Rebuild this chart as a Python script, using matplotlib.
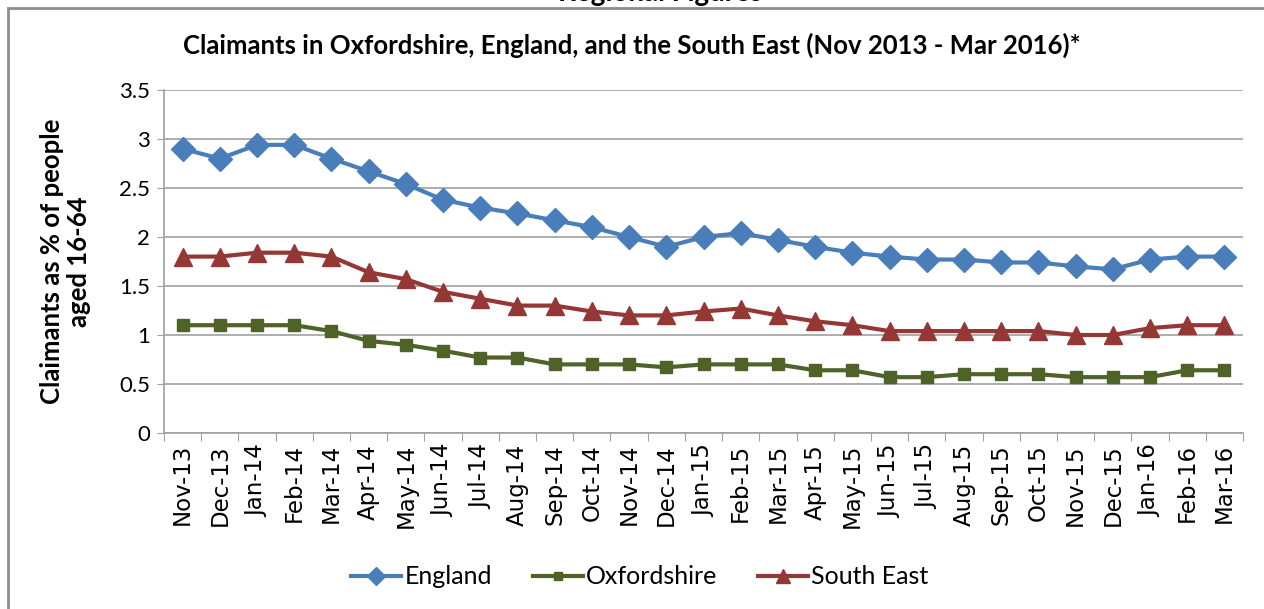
import matplotlib.pyplot as plt
from matplotlib.patches import Rectangle
import numpy as np

# month labels (Nov 2013 - Mar 2016)
months = ["Nov-13", "Dec-13", "Jan-14", "Feb-14", "Mar-14", "Apr-14", "May-14",
          "Jun-14", "Jul-14", "Aug-14", "Sep-14", "Oct-14", "Nov-14", "Dec-14",
          "Jan-15", "Feb-15", "Mar-15", "Apr-15", "May-15", "Jun-15", "Jul-15",
          "Aug-15", "Sep-15", "Oct-15", "Nov-15", "Dec-15", "Jan-16", "Feb-16",
          "Mar-16"]

england = [2.9, 2.8, 2.94, 2.94, 2.8, 2.67, 2.54, 2.38, 2.3, 2.24, 2.17, 2.1,
           2.0, 1.9, 2.0, 2.04, 1.97, 1.9, 1.84, 1.8, 1.77, 1.77, 1.74, 1.74,
           1.7, 1.67, 1.77, 1.8, 1.8]
oxfordshire = [1.1, 1.1, 1.1, 1.1, 1.04, 0.94, 0.9, 0.84, 0.77, 0.77, 0.7, 0.7,
               0.7, 0.67, 0.7, 0.7, 0.7, 0.64, 0.64, 0.57, 0.57, 0.6, 0.6, 0.6,
               0.57, 0.57, 0.57, 0.64, 0.64]
south_east = [1.8, 1.8, 1.84, 1.84, 1.8, 1.64, 1.57, 1.44, 1.37, 1.3, 1.3, 1.24,
              1.2, 1.2, 1.24, 1.27, 1.2, 1.14, 1.1, 1.04, 1.04, 1.04, 1.04, 1.04,
              1.0, 1.0, 1.07, 1.1, 1.1]

font_main = ["Lato", "DejaVu Sans"]

fig = plt.figure(figsize=(12.64, 6.09), dpi=100)
ax = fig.add_axes([164/1264, 1-433/609, (1243-164)/1264, (433-90)/609])

x = np.arange(len(months))
ax.plot(x, england, color="#4A7EBB", lw=3, marker="D", ms=12, label="England")
ax.plot(x, oxfordshire, color="#4F6228", lw=3, marker="s", ms=8, label="Oxfordshire")
ax.plot(x, south_east, color="#953735", lw=3, marker="^", ms=13, label="South East")

ax.set_xlim(-0.5, len(months) - 0.5)
ax.set_ylim(0, 3.5)
ax.set_yticks(np.arange(0, 3.51, 0.5))
ax.set_yticklabels(["0", "0.5", "1", "1.5", "2", "2.5", "3", "3.5"],
                   family=font_main, fontsize=16)
ax.yaxis.grid(True, color="#A0A0A0", lw=1.2)
ax.set_axisbelow(True)

# category labels between tick marks
ax.set_xticks(np.arange(-0.5, len(months), 1.0))
ax.set_xticklabels([])
ax.set_xticks(x, minor=True)
ax.set_xticklabels(months, minor=True, rotation=90, fontsize=16.5,
                   family="DejaVu Sans")
ax.tick_params(axis="x", which="minor", length=0, pad=8)
ax.tick_params(axis="x", which="major", length=6, color="#A0A0A0")
ax.tick_params(axis="y", length=5, color="#A0A0A0", pad=5)

for s in ["top", "right"]:
    ax.spines[s].set_visible(False)
for s in ["left", "bottom"]:
    ax.spines[s].set_color("#A0A0A0")
    ax.spines[s].set_linewidth(1.2)

ax.set_ylabel("Claimants as % of people\naged 16-64", family=font_main,
              fontsize=18.5, fontweight="bold", labelpad=20, linespacing=1.15)

fig.text(0.5, 1 - 45/609, "Claimants in Oxfordshire, England, and the South East (Nov 2013 - Mar 2016)*",
         ha="center", va="center", family=font_main, fontsize=18.5, fontweight="bold")

# top of the page heading, cut off by the crop
fig.text(660/1264, 1 - 1/609, "Regional Figures", ha="center", va="baseline",
         family=font_main, fontsize=20, fontweight="bold")

# chart frame
fig.patches.append(Rectangle((8/1264, -0.05), 1.2, 1 - 8/609 + 0.05,
                             transform=fig.transFigure, fill=False,
                             edgecolor="#8C8C8C", lw=2))

fig.legend(loc="center", bbox_to_anchor=(640/1264, 1 - 577/609), ncol=3,
           frameon=False, prop={"family": font_main, "size": 18},
           handlelength=2.0, columnspacing=1.6, handletextpad=0.15,
           markerscale=0.75)

plt.savefig("out.png", dpi=100)
